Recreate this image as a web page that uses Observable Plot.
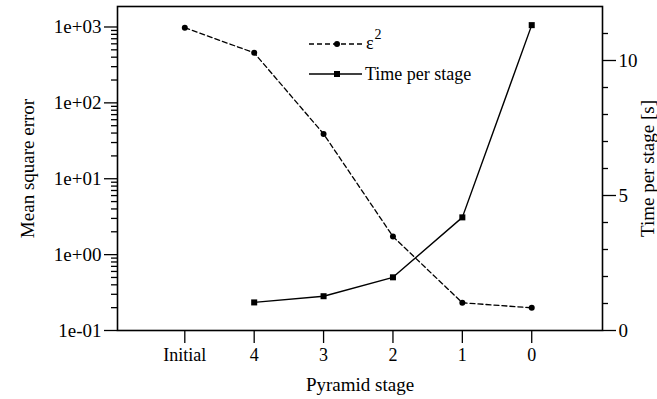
<!DOCTYPE html>
<html><head><meta charset="utf-8">
<script src="https://cdn.jsdelivr.net/npm/d3@7"></script>
<script src="https://cdn.jsdelivr.net/npm/@observablehq/plot@0.6"></script>
<style>
body{margin:0;background:#fff;}
#chart{position:relative;width:657px;height:399px;}
#chart svg{position:absolute;left:0;top:0;}
</style></head><body><div id="chart"></div>
<script>
const stages = ["Initial","4","3","2","1","0"];
const mse = [980, 456, 39, 1.73, 0.232, 0.199];
const timeStages = ["4","3","2","1","0"];
const timePerStage = [1.04, 1.27, 1.97, 4.19, 11.31];
const mseTicks = [0.1, 1, 10, 100, 1000];
const mseTickLabels = ["1e-01","1e+00","1e+01","1e+02","1e+03"];
const timeTicks = [0, 5, 10];
const timeMinorTicks = [1,2,3,4,6,7,8,9,11];
const mseDomain = [0.1, 1862];
const timeDomain = [0, 12.0];
const legendLabels = ["ε", "Time per stage"];

const L0 = Math.log10(mseDomain[0]), L1 = Math.log10(mseDomain[1]);
const tToY = t => Math.pow(10, L0 + (t - timeDomain[0])/(timeDomain[1]-timeDomain[0])*(L1-L0));

const mseData = stages.map((s,i)=>({i, v: mse[i]}));
const timeData = timeStages.map((s,k)=>({i: stages.indexOf(s), t: timePerStage[k]}));
const minorMse = [];
for (const d of [0.1,1,10,100]) for (let k=2;k<=9;k++){ const v=d*k; if (v<=mseDomain[1]) minorMse.push(v); }

const font = "Liberation Serif";
const plot = Plot.plot({
  width: 657, height: 399,
  marginLeft: 117, marginRight: 55, marginTop: 6, marginBottom: 69,
  style: {fontFamily: font, fontSize: "18px", color: "#000", background: "#fff", overflow: "visible"},
  x: {type: "linear", domain: [-0.97, 6.02]},
  y: {type: "log", domain: mseDomain},
  marks: [
    Plot.axisX({ticks: d3.range(stages.length), tickFormat: i => stages[i], tickSize: 13, tickPadding: 5, label: null, strokeWidth: 1.3, fontFamily: font, fontSize: 18}),
    Plot.axisY({ticks: mseTicks, tickFormat: d => mseTickLabels[mseTicks.findIndex(t => Math.abs(t-d) < 1e-9*t)], tickSize: 13, tickPadding: 3, label: null, strokeWidth: 1.3, fontFamily: font, fontSize: 19}),
    Plot.axisY({ticks: minorMse, tickFormat: () => "", tickSize: 6, label: null, strokeWidth: 1.3}),
    Plot.axisY({anchor: "right", ticks: timeTicks.map(tToY), tickFormat: () => "", tickSize: 13, label: null, strokeWidth: 1.3}),
    Plot.axisY({anchor: "right", ticks: timeMinorTicks.map(tToY), tickFormat: () => "", tickSize: 5, label: null, strokeWidth: 1.3}),
    Plot.text(timeTicks, {y: t => tToY(t), text: t => String(t), frameAnchor: "right", dx: 16, textAnchor: "start", lineAnchor: "middle", fontSize: 19, fontFamily: font}),
    Plot.frame({strokeWidth: 1.6}),
    Plot.line(mseData, {x: "i", y: "v", strokeDasharray: "5,3", strokeWidth: 1.3}),
    Plot.dot(mseData, {x: "i", y: "v", r: 3, fill: "black"}),
    Plot.line(timeData, {x: "i", y: d => tToY(d.t), strokeWidth: 1.4}),
    Plot.dot(timeData, {x: "i", y: d => tToY(d.t), symbol: "square", r: 3.4, fill: "black"}),
    Plot.text(["Mean square error"], {frameAnchor: "left", dx: -90, rotate: -90, fontSize: 19, fontFamily: font, textAnchor: "middle", lineAnchor: "middle"}),
    Plot.text(["Time per stage [s]"], {frameAnchor: "right", dx: 45, rotate: -90, fontSize: 19, fontFamily: font, textAnchor: "middle", lineAnchor: "middle"}),
    Plot.text(["Pyramid stage"], {frameAnchor: "bottom", dy: 54, fontSize: 19, fontFamily: font, textAnchor: "middle", lineAnchor: "middle"})
  ]
});
const chart = document.getElementById("chart");
chart.appendChild(plot);

// legend overlay
const lg = d3.select(chart).append("svg").attr("width", 657).attr("height", 399)
  .style("pointer-events", "none");
const l1 = 44, l2 = 74, lx0 = 309, lx1 = 362, mx = 337;
lg.append("line").attr("x1", lx0).attr("x2", lx1).attr("y1", l1).attr("y2", l1)
  .attr("stroke", "#000").attr("stroke-width", 1.3).attr("stroke-dasharray", "5,3");
lg.append("circle").attr("cx", mx).attr("cy", l1).attr("r", 3).attr("fill", "#000");
const t1 = lg.append("text").attr("x", lx1 + 4).attr("y", l1 + 5).attr("font-size", 18).attr("font-family", font);
t1.append("tspan").text(legendLabels[0]);
t1.append("tspan").attr("dy", -10).attr("dx", 1).attr("font-size", 14).text("2");
lg.append("line").attr("x1", lx0).attr("x2", lx1).attr("y1", l2).attr("y2", l2)
  .attr("stroke", "#000").attr("stroke-width", 1.4);
lg.append("rect").attr("x", mx - 3).attr("y", l2 - 3).attr("width", 6).attr("height", 6).attr("fill", "#000");
lg.append("text").attr("x", lx1 + 3).attr("y", l2 + 6).attr("font-size", 18).attr("font-family", font).text(legendLabels[1]);
</script>
</body></html>
